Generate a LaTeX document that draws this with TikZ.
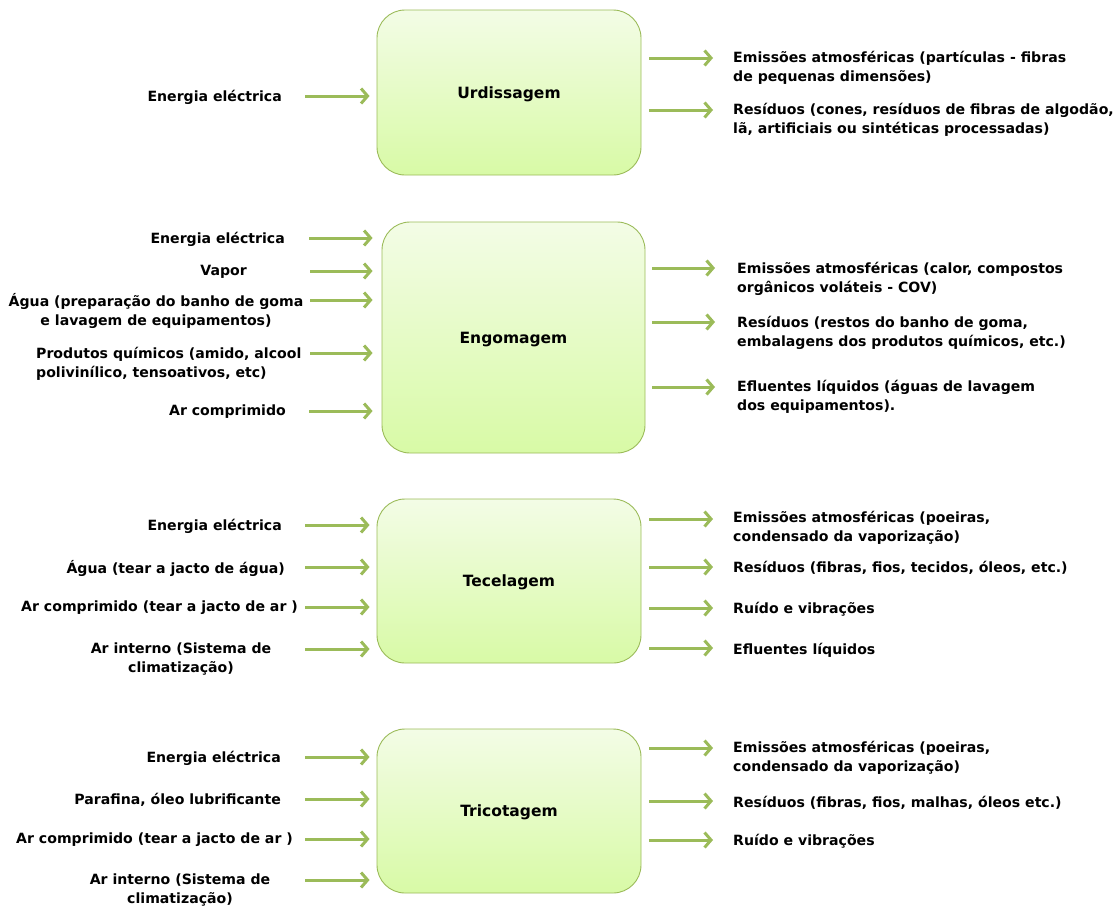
\documentclass[tikz,border=0pt]{standalone}
\usepackage{fontspec}
\setmainfont{DejaVu Sans}
\usetikzlibrary{arrows.meta}
\definecolor{flowgreen}{RGB}{155,187,89}
\definecolor{boxtop}{RGB}{243,252,230}
\definecolor{boxbottom}{RGB}{216,250,166}
\tikzset{
  proc/.style={draw=flowgreen, line width=0.9pt, rounded corners=28pt,
    top color=boxtop, bottom color=boxbottom, inner sep=0pt,
    text depth=-4pt, font=\fontsize{15.5}{19}\selectfont\bfseries},
  lbl/.style={inner sep=0pt, font=\fontsize{14.1}{19}\selectfont\bfseries},
  flowin/.style={draw=flowgreen, line width=3pt,
    -{Straight Barb[length=6.5pt,width=15pt,line width=3pt]}, shorten >=7pt},
  flowout/.style={draw=flowgreen, line width=3pt,
    -{Straight Barb[length=6.5pt,width=15pt,line width=3pt]}, shorten <=8pt},
}
\begin{document}
\begin{tikzpicture}[x=1pt,y=-1pt]
\useasboundingbox (0,0) rectangle (1116,906);

% ---------------- Urdissagem ----------------
\node[proc, minimum width=264pt, minimum height=165pt] (u) at (509,92.5) {Urdissagem};
\coordinate (ui1) at (305,96);
\draw[flowin] (ui1) -- (ui1 -| u.west);
\node[lbl, anchor=east] (uil1) at (282,97) {Energia eléctrica};
\coordinate (uo1) at (713,58);
\coordinate (uo2) at (713,110);
\draw[flowout] (uo1 -| u.east) -- (uo1);
\draw[flowout] (uo2 -| u.east) -- (uo2);
\node[lbl, anchor=west, align=left] (uol1) at (733,67.5) {Emissões atmosféricas (partículas - fibras\\de pequenas dimensões)};
\node[lbl, anchor=west, align=left] (uol2) at (733,120) {Resíduos (cones, resíduos de fibras de algodão,\\lã, artificiais ou sintéticas processadas)};

% ---------------- Engomagem ----------------
\node[proc, minimum width=263pt, minimum height=231pt] (e) at (513.5,337.5) {Engomagem};
\coordinate (ei1) at (309,238);
\coordinate (ei2) at (310,271);
\coordinate (ei3) at (310,300);
\coordinate (ei4) at (310,353);
\coordinate (ei5) at (309,411);
\foreach \c in {ei1,ei2,ei3,ei4,ei5}{\draw[flowin, shorten >=9pt] (\c) -- (\c -| e.west);}
\node[lbl, anchor=east] (eil1) at (285,239) {Energia eléctrica};
\node[lbl, anchor=east] (eil2) at (247,272) {Vapor};
\node[lbl, align=center] (eil3) at (156,311) {Água (preparação do banho de goma\\e lavagem de equipamentos)};
\node[lbl, anchor=west, align=left] (eil4) at (36,363.5) {Produtos químicos (amido, alcool\\polivinílico, tensoativos, etc)};
\node[lbl, anchor=east] (eil5) at (286,412) {Ar comprimido};
\coordinate (eo1) at (715,268);
\coordinate (eo2) at (715,322);
\coordinate (eo3) at (715,387);
\foreach \c in {eo1,eo2,eo3}{\draw[flowout, shorten <=7pt] (\c -| e.east) -- (\c);}
\node[lbl, anchor=west, align=left] (eol1) at (737,278.5) {Emissões atmosféricas (calor, compostos\\orgânicos voláteis - COV)};
\node[lbl, anchor=west, align=left] (eol2) at (737,332.5) {Resíduos (restos do banho de goma,\\embalagens dos produtos químicos, etc.)};
\node[lbl, anchor=west, align=left] (eol3) at (737,397) {Efluentes líquidos (águas de lavagem\\dos equipamentos).};

% ---------------- Tecelagem ----------------
\node[proc, minimum width=264pt, minimum height=164pt] (t) at (509,581) {Tecelagem};
\coordinate (ti1) at (305,525);
\coordinate (ti2) at (305,567);
\coordinate (ti3) at (305,607);
\coordinate (ti4) at (305,649);
\foreach \c in {ti1,ti2,ti3,ti4}{\draw[flowin] (\c) -- (\c -| t.west);}
\node[lbl, anchor=east] (til1) at (282,526) {Energia eléctrica};
\node[lbl, anchor=east] (til2) at (285,568) {Água (tear a jacto de água)};
\node[lbl, anchor=east] (til3) at (298,608) {Ar comprimido (tear a jacto de ar )};
\node[lbl, align=center] (til4) at (181,659.5) {Ar interno (Sistema de\\climatização)};
\coordinate (to1) at (713,519);
\coordinate (to2) at (713,567);
\coordinate (to3) at (713,608);
\coordinate (to4) at (713,648);
\foreach \c in {to1,to2,to3,to4}{\draw[flowout] (\c -| t.east) -- (\c);}
\node[lbl, anchor=west, align=left] (tol1) at (733,528) {Emissões atmosféricas (poeiras,\\condensado da vaporização)};
\node[lbl, anchor=west] (tol2) at (733,568) {Resíduos (fibras, fios, tecidos, óleos, etc.)};
\node[lbl, anchor=west] (tol3) at (733,609) {Ruído e vibrações};
\node[lbl, anchor=west] (tol4) at (733,650) {Efluentes líquidos};

% ---------------- Tricotagem ----------------
\node[proc, minimum width=264pt, minimum height=164pt] (r) at (509,811) {Tricotagem};
\coordinate (ri1) at (305,757);
\coordinate (ri2) at (305,799);
\coordinate (ri3) at (305,839);
\coordinate (ri4) at (305,880);
\foreach \c in {ri1,ri2,ri3,ri4}{\draw[flowin] (\c) -- (\c -| r.west);}
\node[lbl, anchor=east] (ril1) at (281,758) {Energia eléctrica};
\node[lbl, anchor=east] (ril2) at (281,800) {Parafina, óleo lubrificante};
\node[lbl, anchor=east] (ril3) at (293,840) {Ar comprimido (tear a jacto de ar )};
\node[lbl, align=center] (ril4) at (180,890) {Ar interno (Sistema de\\climatização)};
\coordinate (ro1) at (713,748);
\coordinate (ro2) at (713,801);
\coordinate (ro3) at (713,840);
\foreach \c in {ro1,ro2,ro3}{\draw[flowout] (\c -| r.east) -- (\c);}
\node[lbl, anchor=west, align=left] (rol1) at (733,758) {Emissões atmosféricas (poeiras,\\condensado da vaporização)};
\node[lbl, anchor=west] (rol2) at (733,803) {Resíduos (fibras, fios, malhas, óleos etc.)};
\node[lbl, anchor=west] (rol3) at (733,841) {Ruído e vibrações};
\end{tikzpicture}
\end{document}
